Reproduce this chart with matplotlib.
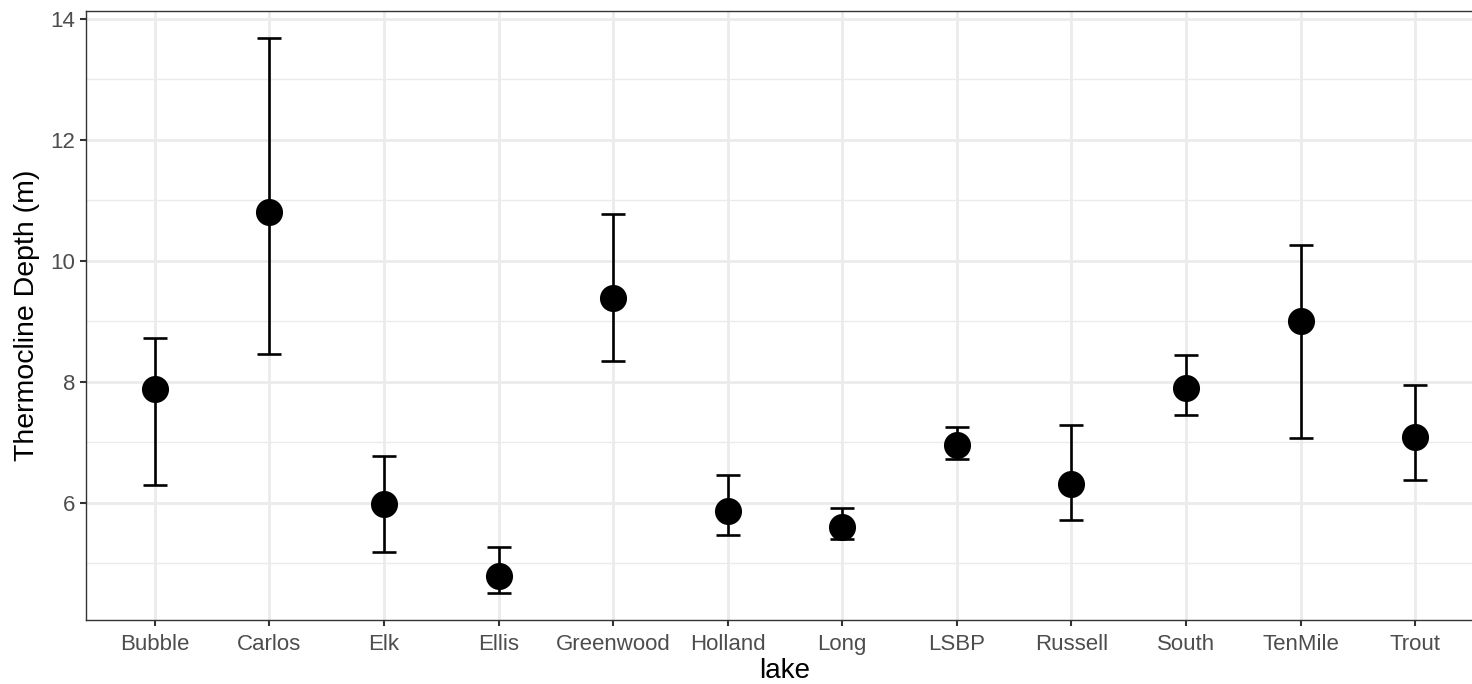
import matplotlib.pyplot as plt
import numpy as np

lakes = ["Bubble", "Carlos", "Elk", "Ellis", "Greenwood", "Holland",
         "Long", "LSBP", "Russell", "South", "TenMile", "Trout"]
depth_mean = [7.88, 10.81, 5.98, 4.79, 9.39, 5.87, 5.60, 6.96, 6.31, 7.90, 9.01, 7.09]
depth_upper = [8.72, 13.69, 6.77, 5.27, 10.77, 6.45, 5.92, 7.25, 7.29, 8.45, 10.26, 7.95]
depth_lower = [6.29, 8.46, 5.19, 4.51, 8.35, 5.47, 5.40, 6.73, 5.72, 7.45, 7.07, 6.37]

plt.rcParams['font.family'] = ['Liberation Sans', 'DejaVu Sans']

fig = plt.figure(figsize=(14.72, 6.84), dpi=100)
ax = fig.add_axes([86/1472, 64/684, 1398/1472, 609/684])

x = np.arange(len(lakes))
mean = np.array(depth_mean)
yerr = [mean - np.array(depth_lower), np.array(depth_upper) - mean]

ax.errorbar(x, mean, yerr=yerr, fmt='none', ecolor='black', elinewidth=1.9,
            capsize=8.3, capthick=1.9, zorder=3)
ax.scatter(x, mean, s=19.5**2, color='black', zorder=4, linewidths=0)

ax.set_xlim(-0.6, len(lakes) - 0.4)
ax.set_ylim(4.06, 14.13)
ax.set_xticks(x)
ax.set_xticklabels(lakes)
ax.set_yticks([6, 8, 10, 12, 14])
ax.set_yticks([5, 7, 9, 11, 13], minor=True)

ax.grid(True, which='major', color='#EBEBEB', linewidth=2.0)
ax.grid(True, which='minor', axis='y', color='#EBEBEB', linewidth=1.0)
ax.set_axisbelow(True)

for sp in ax.spines.values():
    sp.set_color('#333333')
    sp.set_linewidth(1.0)

ax.tick_params(which='major', length=4, width=1.5, color='#333333',
               labelsize=16, labelcolor='#4D4D4D')
ax.tick_params(axis='x', pad=6)
ax.tick_params(axis='y', pad=4)
ax.tick_params(which='minor', length=0)

ax.set_xlabel("lake", fontsize=20, color='black', labelpad=2)
ax.set_ylabel("Thermocline Depth (m)", fontsize=20.5, color='black', labelpad=7)

fig.savefig("out.png", dpi=100)
